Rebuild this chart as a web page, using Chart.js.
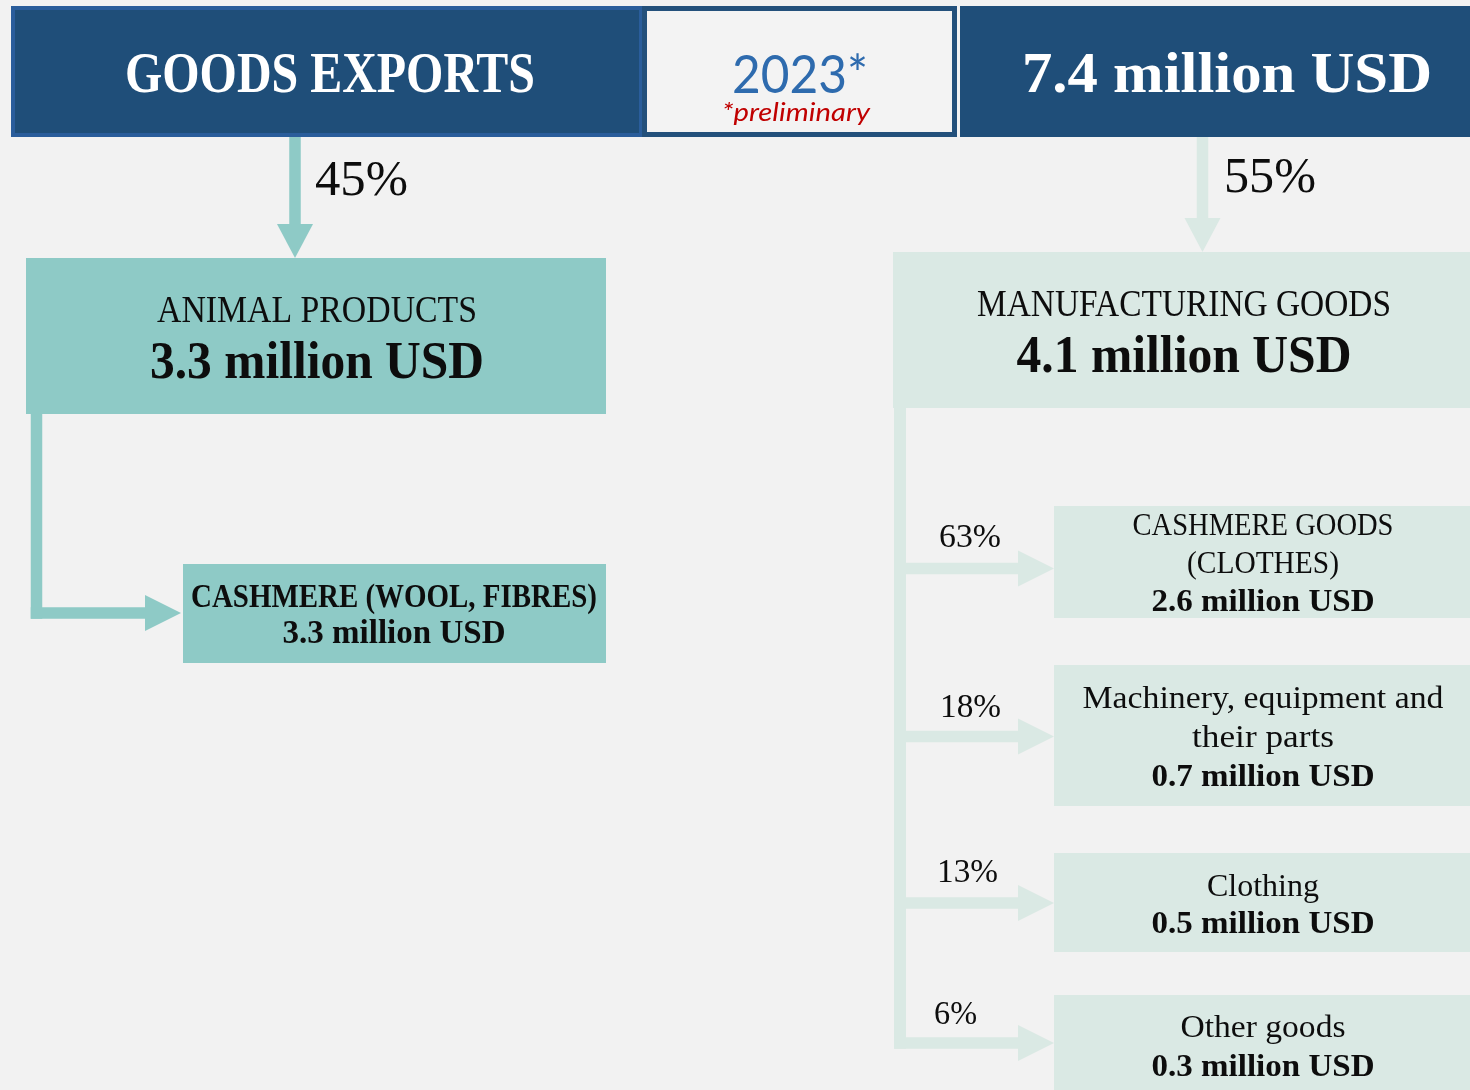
<!DOCTYPE html>
<html>
<head>
<meta charset="utf-8">
<script src="https://cdn.jsdelivr.net/npm/chart.js@4.4.1/dist/chart.umd.min.js"></script>
<style>
html,body{margin:0;padding:0;background:#f2f2f2;overflow:hidden}
#wrap{width:1470px;height:1090px;position:relative}
</style>
</head>
<body>
<div id="wrap"><canvas id="c" width="1470" height="1090"></canvas></div>
<script>
// ---------------- DATA ----------------
const headerTitle = 'GOODS EXPORTS';
const yearLabel = '2023*';
const yearNote = '*preliminary';
const totalValue = 7.4;
const unit = 'million USD';
const groupNames = ['ANIMAL PRODUCTS', 'MANUFACTURING GOODS'];
const groupShares = [45, 55];
const groupValues = [3.3, 4.1];
const animalItems = [['CASHMERE (WOOL, FIBRES)']];
const animalValues = [3.3];
const manufItems = [['CASHMERE GOODS', '(CLOTHES)'], ['Machinery, equipment and', 'their parts'], ['Clothing'], ['Other goods']];
const manufShares = [63, 18, 13, 6];
const manufValues = [2.6, 0.7, 0.5, 0.3];

// ---------------- LAYOUT (coordinate space 1470 x 1090) ----------------
const SPACE_W = 1470, SPACE_H = 1090;
const COLORS = {
  bg: '#f2f2f2', navy: '#1f4e79', navyEdge: '#2a5d9b', yearEdge: '#23507b', yearFill: '#f3f3f3',
  teal: '#8ecac6', mint: '#dae9e4', yearText: '#2e6bae', note: '#c00000', ink: '#0d0d0d', white: '#ffffff'
};
const SERIF = '"Liberation Serif", "DejaVu Serif", serif';
const SANS = 'Lato, "Liberation Sans", sans-serif';
const headerBoxes = {
  title: { x0: 11, x1: 643, y0: 6, y1: 137, edge: 4, textX: 330, base: 92, size: 56, width: 410 },
  year: { x0: 642, x1: 957, y0: 6, y1: 137, edge: 5, textX: 800, base: 93, size: 52, width: 136, noteX: 796, noteBase: 121, noteSize: 26, noteWidth: 148 },
  total: { x0: 960, x1: 1470, y0: 6, y1: 137, textX: 1227, base: 92, size: 56, width: 410 }
};
const groupLayout = [
  { color: 'teal', arrowX: 295, arrowY0: 137, arrowY1: 258, shareX: 315, shareBase: 195, shareWidth: 93,
    box: { x0: 26, x1: 606, y0: 258, y1: 414 }, nameBase: 322, nameWidth: 320, valueBase: 378, valueWidth: 334, textX: 317 },
  { color: 'mint', arrowX: 1202.5, arrowY0: 137, arrowY1: 252, shareX: 1224, shareBase: 192, shareWidth: 92,
    box: { x0: 893, x1: 1470, y0: 252, y1: 408 }, nameBase: 316, nameWidth: 414, valueBase: 372, valueWidth: 335, textX: 1184 }
];
const animalLayout = {
  trunkX: 36.5, trunkY0: 414, arrowY: 613, headX0: 145, headX1: 181,
  boxes: [{ x0: 183, x1: 606, y0: 564, y1: 663, textX: 394, bases: [607, 643], widths: [406, 223] }]
};
const manufLayout = {
  trunkX: 900, trunkY0: 408, headX0: 1018, headX1: 1054,
  arrowY: [568.5, 736.5, 903, 1043],
  shareX: [939, 940, 937, 934], shareBase: [547, 717, 882, 1024], shareWidth: [62, 61, 61, 43],
  boxes: [
    { x0: 1054, x1: 1470, y0: 506, y1: 618, bases: [535, 573, 611], widths: [261, 152, 223] },
    { x0: 1054, x1: 1470, y0: 665, y1: 806, bases: [708, 747, 786], widths: [361, 142, 223] },
    { x0: 1054, x1: 1470, y0: 853, y1: 952, bases: [896, 933], widths: [112, 223] },
    { x0: 1054, x1: 1470, y0: 995, y1: 1090, bases: [1037, 1076], widths: [165, 223] }
  ],
  textX: 1263
};
const STROKE = 11.5, HEAD_W = 36, HEAD_H = 34;

// ---------------- DRAWING via chart scales ----------------
function fmt(v) { return v.toFixed(1) + ' ' + unit; }

const diagramPlugin = {
  id: 'exportDiagram',
  beforeDraw(chart) {
    const ctx = chart.ctx;
    ctx.save();
    ctx.fillStyle = COLORS.bg;
    ctx.fillRect(0, 0, chart.width, chart.height);
    ctx.restore();
  },
  afterDatasetsDraw(chart) {
    const ctx = chart.ctx;
    const sx = chart.scales.x, sy = chart.scales.y;
    const X = v => sx.getPixelForValue(v);
    const Y = v => sy.getPixelForValue(v);
    const S = v => Math.abs(X(v) - X(0));
    const SV = v => Math.abs(Y(v) - Y(0));

    function rect(b, fill) {
      ctx.fillStyle = fill;
      ctx.fillRect(X(b.x0), Y(b.y0), X(b.x1) - X(b.x0), Y(b.y1) - Y(b.y0));
    }
    function inset(b, d) { return { x0: b.x0 + d, x1: b.x1 - d, y0: b.y0 + d, y1: b.y1 - d }; }
    function text(str, x, base, size, opts) {
      opts = opts || {};
      ctx.save();
      const px = SV(size);
      ctx.font = (opts.italic ? 'italic ' : '') + (opts.bold ? 'bold ' : '') + px + 'px ' + (opts.family || SERIF);
      ctx.fillStyle = opts.color || COLORS.ink;
      ctx.textBaseline = 'alphabetic';
      const m = ctx.measureText(str).width;
      const k = opts.width ? S(opts.width) / m : 1;
      ctx.translate(X(x), Y(base));
      ctx.scale(k, 1);
      ctx.textAlign = opts.align || 'center';
      ctx.fillText(str, 0, 0);
      ctx.restore();
    }
    function vArrow(x, y0, y1, color) {
      ctx.fillStyle = color;
      const hw = STROKE / 2;
      ctx.fillRect(X(x - hw), Y(y0), S(STROKE), Y(y1 - HEAD_H) - Y(y0) + 1);
      ctx.beginPath();
      ctx.moveTo(X(x - HEAD_W / 2), Y(y1 - HEAD_H));
      ctx.lineTo(X(x + HEAD_W / 2), Y(y1 - HEAD_H));
      ctx.lineTo(X(x), Y(y1));
      ctx.closePath();
      ctx.fill();
    }
    function hArrow(x0, hx0, hx1, y, color) {
      ctx.fillStyle = color;
      const hw = STROKE / 2;
      ctx.fillRect(X(x0 - hw), Y(y - hw), X(hx0) - X(x0 - hw) + 1, SV(STROKE));
      ctx.beginPath();
      ctx.moveTo(X(hx0), Y(y - HEAD_W / 2));
      ctx.lineTo(X(hx0), Y(y + HEAD_W / 2));
      ctx.lineTo(X(hx1), Y(y));
      ctx.closePath();
      ctx.fill();
    }

    // Header band
    const hb = headerBoxes;
    rect(hb.title, COLORS.navyEdge);
    rect(inset(hb.title, hb.title.edge), COLORS.navy);
    rect(hb.year, COLORS.yearEdge);
    rect(inset(hb.year, hb.year.edge), COLORS.yearFill);
    rect(hb.total, COLORS.navy);
    text(headerTitle, hb.title.textX, hb.title.base, hb.title.size, { bold: true, color: COLORS.white, width: hb.title.width });
    text(yearLabel, hb.year.textX, hb.year.base, hb.year.size, { family: SANS, color: COLORS.yearText, width: hb.year.width });
    text(yearNote, hb.year.noteX, hb.year.noteBase, hb.year.noteSize, { family: SANS, italic: true, color: COLORS.note, width: hb.year.noteWidth });
    text(totalValue.toFixed(1) + ' ' + unit, hb.total.textX, hb.total.base, hb.total.size, { bold: true, color: COLORS.white, width: hb.total.width });

    // Groups
    groupLayout.forEach((g, i) => {
      const col = COLORS[g.color];
      vArrow(g.arrowX, g.arrowY0, g.arrowY1, col);
      text(groupShares[i] + '%', g.shareX, g.shareBase, 50, { align: 'left', width: g.shareWidth });
      rect(g.box, col);
      text(groupNames[i], g.textX, g.nameBase, 37, { width: g.nameWidth });
      text(fmt(groupValues[i]), g.textX, g.valueBase, 52, { bold: true, width: g.valueWidth });
    });

    // Animal products branch
    const a = animalLayout;
    ctx.fillStyle = COLORS.teal;
    ctx.fillRect(X(a.trunkX - STROKE / 2), Y(a.trunkY0), S(STROKE), Y(a.arrowY + STROKE / 2) - Y(a.trunkY0));
    animalItems.forEach((lines, i) => {
      const b = a.boxes[i];
      hArrow(a.trunkX, a.headX0, a.headX1, a.arrowY, COLORS.teal);
      rect(b, COLORS.teal);
      const all = lines.concat([fmt(animalValues[i])]);
      all.forEach((ln, j) => text(ln, b.textX, b.bases[j], 33, { bold: true, width: b.widths[j] }));
    });

    // Manufacturing branch
    const m = manufLayout;
    const lastY = m.arrowY[m.arrowY.length - 1];
    ctx.fillStyle = COLORS.mint;
    ctx.fillRect(X(m.trunkX - 6), Y(m.trunkY0), S(12), Y(lastY + STROKE / 2) - Y(m.trunkY0));
    manufItems.forEach((lines, i) => {
      const b = m.boxes[i];
      hArrow(m.trunkX, m.headX0, m.headX1, m.arrowY[i], COLORS.mint);
      rect(b, COLORS.mint);
      text(manufShares[i] + '%', m.shareX[i], m.shareBase[i], 33, { align: 'left', width: m.shareWidth[i] });
      lines.forEach((ln, j) => text(ln, m.textX, b.bases[j], 32, { width: b.widths[j] }));
      text(fmt(manufValues[i]), m.textX, b.bases[lines.length], 32, { bold: true, width: b.widths[lines.length] });
    });
  }
};

new Chart(document.getElementById('c'), {
  type: 'scatter',
  data: { datasets: [] },
  options: {
    responsive: false,
    animation: false,
    events: [],
    layout: { padding: 0 },
    plugins: { legend: { display: false }, tooltip: { enabled: false }, title: { display: false } },
    scales: {
      x: { type: 'linear', min: 0, max: SPACE_W, display: false },
      y: { type: 'linear', min: 0, max: SPACE_H, reverse: true, display: false }
    }
  },
  plugins: [diagramPlugin]
});
</script>
</body>
</html>
